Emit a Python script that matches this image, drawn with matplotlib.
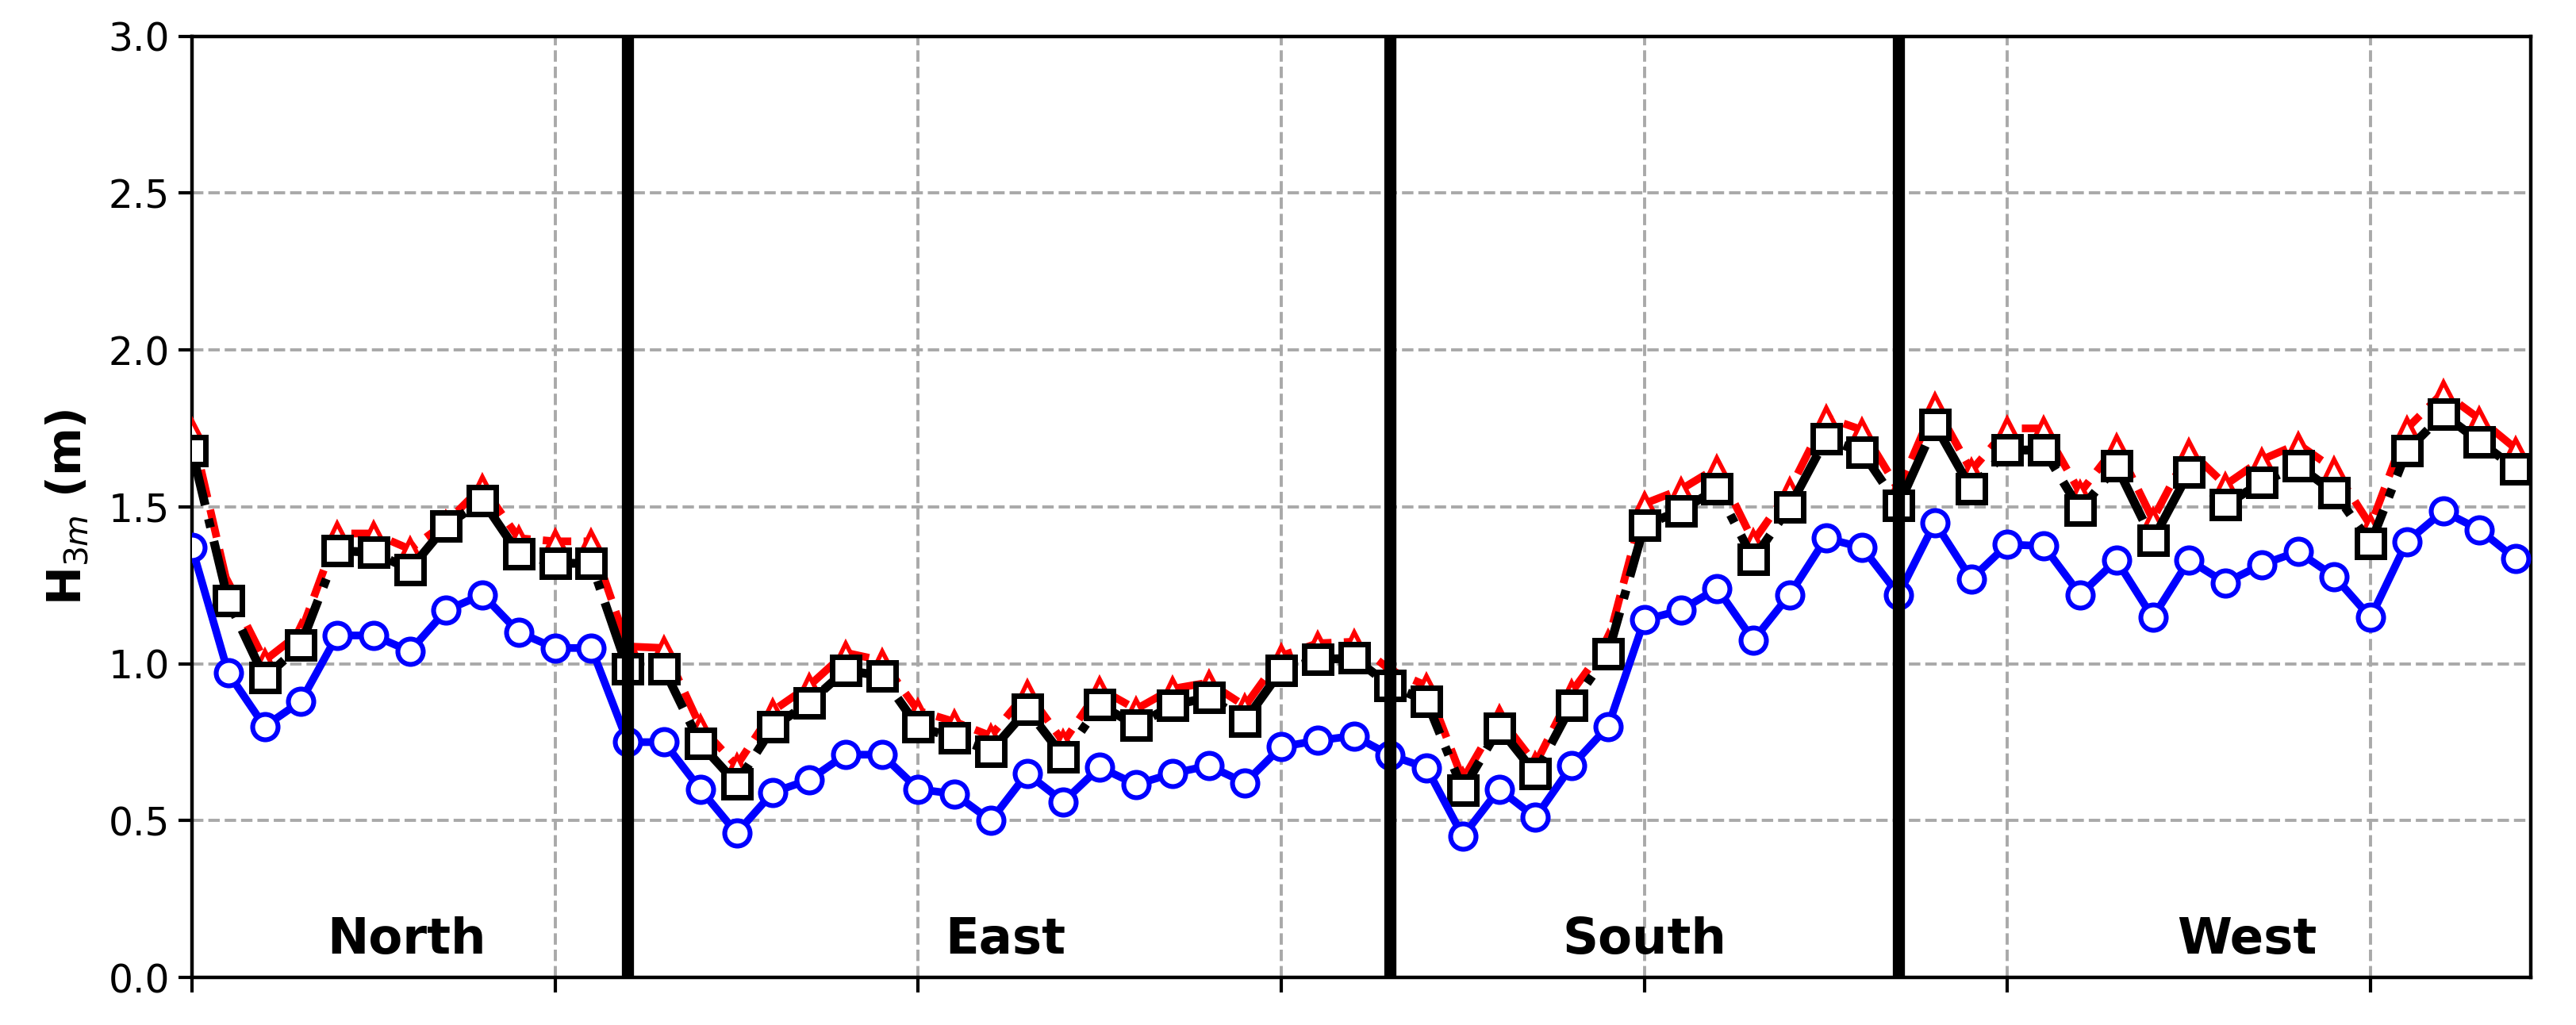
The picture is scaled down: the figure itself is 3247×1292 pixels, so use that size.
import numpy as np
import matplotlib
matplotlib.use("Agg")
import matplotlib.pyplot as plt

# wave height at each station along the coast (4 sides)
h_blue = [1.37, 0.97, 0.80, 0.88, 1.09, 1.09, 1.04, 1.17, 1.22, 1.10,
          1.05, 1.05, 0.75, 0.75, 0.60, 0.46, 0.59, 0.63, 0.71, 0.71,
          0.60, 0.585, 0.50, 0.65, 0.56, 0.67, 0.615, 0.65, 0.675, 0.62,
          0.735, 0.755, 0.77, 0.708, 0.668, 0.45, 0.60, 0.51, 0.675, 0.80,
          1.14, 1.17, 1.24, 1.075, 1.22, 1.40, 1.37, 1.22, 1.45, 1.27,
          1.38, 1.375, 1.22, 1.33, 1.147, 1.33, 1.258, 1.316, 1.357, 1.278,
          1.147, 1.389, 1.486, 1.427, 1.334]
h_black = [1.68, 1.20, 0.955, 1.06, 1.36, 1.355, 1.30, 1.44, 1.52, 1.35,
           1.32, 1.32, 0.983, 0.983, 0.745, 0.618, 0.798, 0.876, 0.979, 0.961,
           0.798, 0.765, 0.721, 0.854, 0.704, 0.869, 0.803, 0.867, 0.893, 0.818,
           0.979, 1.013, 1.018, 0.93, 0.881, 0.598, 0.795, 0.65, 0.868, 1.033,
           1.441, 1.488, 1.557, 1.333, 1.50, 1.717, 1.674, 1.504, 1.762, 1.557,
           1.681, 1.681, 1.49, 1.63, 1.394, 1.611, 1.507, 1.577, 1.631, 1.546,
           1.384, 1.679, 1.795, 1.708, 1.621]
h_red = [1.745, 1.24, 1.01, 1.10, 1.415, 1.415, 1.365, 1.45, 1.565, 1.40,
         1.39, 1.39, 1.055, 1.05, 0.80, 0.675, 0.85, 0.93, 1.035, 1.01,
         0.85, 0.815, 0.77, 0.91, 0.75, 0.92, 0.855, 0.92, 0.94, 0.865,
         1.025, 1.065, 1.07, 0.98, 0.93, 0.63, 0.83, 0.68, 0.91, 1.07,
         1.51, 1.555, 1.625, 1.39, 1.555, 1.785, 1.745, 1.555, 1.825, 1.615,
         1.75, 1.75, 1.545, 1.695, 1.46, 1.68, 1.57, 1.65, 1.70, 1.62,
         1.44, 1.75, 1.865, 1.78, 1.685]

sides = ["North", "East", "South", "West"]
side_pos = [5.9, 22.4, 40.0, 56.6]
borders = [12, 33, 47]

x = np.arange(len(h_blue))

fig = plt.figure(figsize=(16.24, 6.46), dpi=200)
ax = fig.add_subplot(111)
fig.subplots_adjust(left=0.0745, right=0.982, bottom=0.0464, top=0.9647)

ax.plot(x, h_red, color="red", ls="--", lw=3.5, marker="^", ms=9,
        mfc="white", mec="red", mew=2, zorder=3)
ax.plot(x, h_black, color="black", ls="-.", lw=4, marker="s", ms=12,
        mfc="white", mec="black", mew=2.5, zorder=4)
ax.plot(x, h_blue, color="blue", ls="-", lw=3.5, marker="o", ms=11.5,
        mfc="white", mec="blue", mew=2.2, zorder=4)

for b in borders:
    ax.axvline(b, color="black", lw=5.5, zorder=5)

for name, p in zip(sides, side_pos):
    ax.text(p, 0.12, name, ha="center", va="center", fontsize=22.5,
            fontweight="bold")

ax.set_xlim(0, 64.4)
ax.set_ylim(0, 3.0)
ax.set_xticks(np.arange(0, 61, 10))
ax.set_xticklabels([])
ax.set_yticks(np.arange(0, 3.01, 0.5))
ax.tick_params(axis="y", labelsize=17.5, length=6, width=1.5, pad=4)
ax.tick_params(axis="x", length=7, width=1.5)
for s in ax.spines.values():
    s.set_linewidth(1.6)

ax.grid(True, ls="--", lw=1.4, color="#a9a9a9")
ax.set_axisbelow(True)
ax.set_ylabel(r"$\mathbf{H}_{3m}$ (m)", fontsize=21, fontweight="bold", labelpad=8)

fig.savefig("out.png", dpi=200)
